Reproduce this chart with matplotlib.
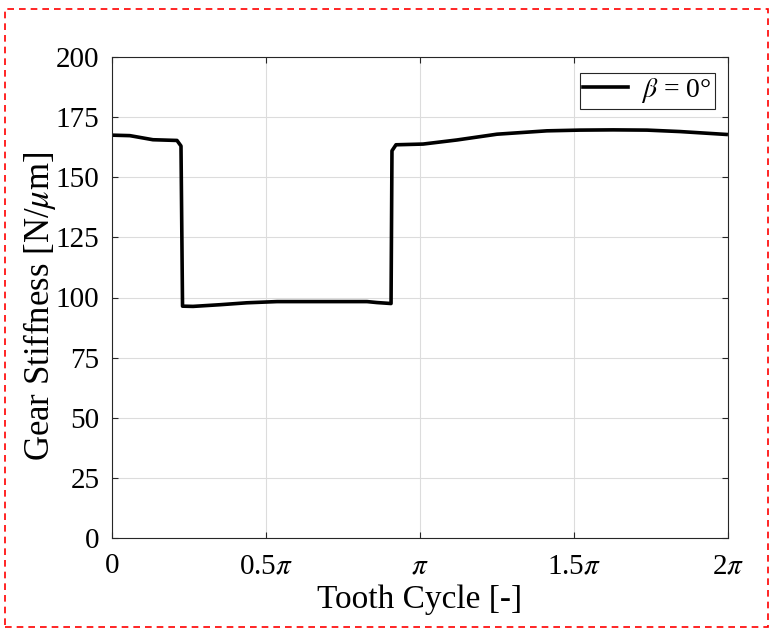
import numpy as np
import matplotlib
matplotlib.use('Agg')
import matplotlib.pyplot as plt
from matplotlib.patches import Rectangle

plt.rcParams['font.family'] = ['Liberation Serif', 'DejaVu Serif']
plt.rcParams['mathtext.fontset'] = 'stix'

# tooth cycle position (in units of pi) and mesh stiffness (N/um)
cycle = [0.0, 0.058, 0.133, 0.211, 0.224, 0.229, 0.263, 0.351, 0.438, 0.536,
         0.828, 0.860, 0.906, 0.909, 0.922, 1.010, 1.120, 1.250, 1.412, 1.519,
         1.627, 1.737, 1.844, 1.994]
stiffness = [167.5, 167.3, 165.6, 165.3, 163.0, 96.4, 96.3, 97.0, 97.8, 98.3,
             98.3, 97.9, 97.5, 161.0, 163.5, 163.8, 165.5, 167.9, 169.3, 169.6,
             169.7, 169.6, 169.0, 167.8]
xtick_vals = [0, 0.5, 1, 1.5, 2]
xtick_labels = ['0', r'0.5$\pi$', r'$\pi$', r'1.5$\pi$', r'2$\pi$']
yticks = [0, 25, 50, 75, 100, 125, 150, 175, 200]

fig = plt.figure(figsize=(7.73, 6.32), dpi=100)
ax = fig.add_axes([112 / 773, 1 - 538 / 632, 616 / 773, 481 / 632])

ax.plot(np.array(cycle) * np.pi, stiffness, color='black', linewidth=2.6,
        label=r'$\beta$ = 0°')

ax.set_xlim(0, 2 * np.pi)
ax.set_ylim(0, 200)
ax.set_xticks(np.array(xtick_vals) * np.pi)
ax.set_xticklabels(xtick_labels)
ax.set_yticks(yticks)
ax.tick_params(direction='in', top=True, right=True, labelsize=21,
               length=4, color='#262626')
ax.tick_params(axis='x', pad=11)
ax.tick_params(axis='y', pad=9)
for s in ax.spines.values():
    s.set_color('#262626')
    s.set_linewidth(0.8)
ax.grid(True, color='#dcdcdc', linewidth=0.8)
ax.set_axisbelow(True)

ax.set_xlabel('Tooth Cycle [-]', fontsize=24, labelpad=4)
ax.set_ylabel(r'Gear Stiffness [N/$\mu$m]', fontsize=25)
ax.yaxis.set_label_coords(-0.087, 0.482)

leg = ax.legend(loc='upper right', bbox_to_anchor=(0.979, 0.967),
                fontsize=20, fancybox=False,
                edgecolor='#262626', framealpha=1, handlelength=1.6,
                handletextpad=0.5, borderpad=0.12, borderaxespad=0)
leg.get_frame().set_linewidth(0.8)

# red dashed border around the figure
fig.patches.append(Rectangle((5 / 773, 1 - 627 / 632), 763 / 773, 618 / 632,
                             transform=fig.transFigure, fill=False,
                             edgecolor='red', linestyle=(0, (4, 3)),
                             linewidth=1.2))

fig.savefig('out.png', dpi=100)
